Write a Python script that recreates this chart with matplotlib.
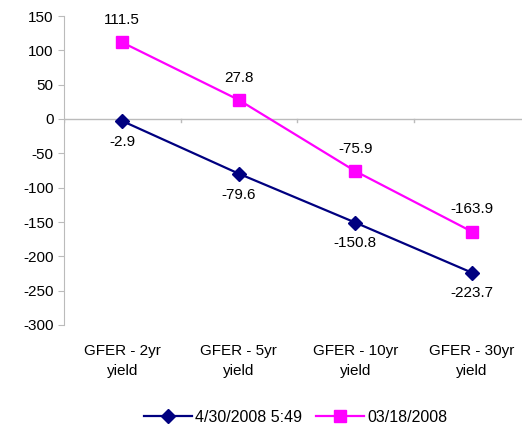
import numpy as np
import matplotlib.pyplot as plt

plt.rcParams['font.family'] = ['Liberation Sans', 'DejaVu Sans']
plt.rcParams['axes.unicode_minus'] = False

categories = ["GFER - 2yr\nyield", "GFER - 5yr\nyield", "GFER - 10yr\nyield", "GFER - 30yr\nyield"]
recent = [-2.9, -79.6, -150.8, -223.7]
earlier = [111.5, 27.8, -75.9, -163.9]
recent_label = "4/30/2008 5:49"
earlier_label = "03/18/2008"

fig = plt.figure(figsize=(5.22, 4.29), dpi=100)
ax = fig.add_axes([64/522, 104/429, 466/522, 309/429])

x = np.arange(len(categories))
ax.plot(x, recent, color="#000080", marker="D", markersize=7, lw=1.6, label=recent_label)
ax.plot(x, earlier, color="#FF00FF", marker="s", markersize=8, lw=1.6, label=earlier_label)

for xi, v in zip(x, recent):
    ax.annotate(f"{v:.1f}", (xi, v), xytext=(0, -10), textcoords="offset points",
                ha="center", va="top", fontsize=11)
for xi, v in zip(x, earlier):
    ax.annotate(f"{v:.1f}", (xi, v), xytext=(0, 11), textcoords="offset points",
                ha="center", va="bottom", fontsize=11)

ax.set_xlim(-0.5, 3.5)
ax.set_ylim(-300, 150)
ax.set_yticks(np.arange(-300, 151, 50))
ax.tick_params(axis="y", labelsize=11, color="#BBBBBB", length=4)
for s in ["top", "right", "bottom"]:
    ax.spines[s].set_visible(False)
ax.spines["left"].set_color("#BBBBBB")

# zero axis line with category boundary ticks
ax.axhline(0, color="#BBBBBB", lw=1, zorder=0)
for b in np.arange(-0.5, 3.6, 1):
    ax.plot([b, b], [0, -5], color="#BBBBBB", lw=1, zorder=0)

ax.set_xticks([])
for xi, lab in zip(x, categories):
    ax.text(xi, -0.06, lab, transform=ax.get_xaxis_transform(), ha="center", va="top",
            fontsize=11, linespacing=1.55)

fig.legend(loc="center", bbox_to_anchor=(0.566, 12/429), ncol=2, frameon=False,
           fontsize=11.5, handlelength=3.0, columnspacing=0.9, handletextpad=0.2)

fig.savefig("out.png", dpi=100)
